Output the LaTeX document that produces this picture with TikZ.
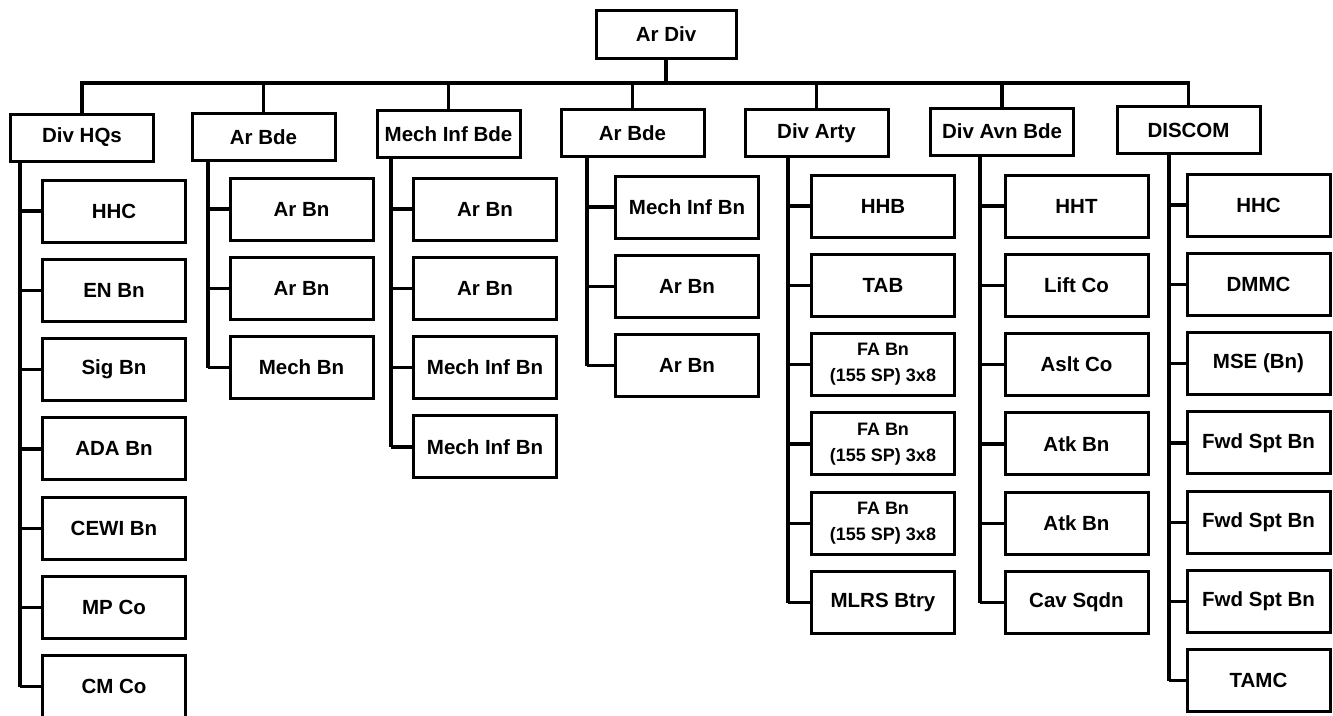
\documentclass[tikz,border=0pt]{standalone}
\usepackage{fontspec}
\setmainfont{Liberation Sans}
\begin{document}
\begin{tikzpicture}[x=1pt,y=-1pt,
  line width=3pt,
  topbox/.style={draw, line width=3pt, inner sep=0pt, minimum width=141pt, minimum height=48pt,
    font=\bfseries\fontsize{20.5}{24}\selectfont},
  unitbox/.style={draw, line width=3pt, inner sep=0pt, minimum width=143pt, minimum height=62pt,
    font=\bfseries\fontsize{20.5}{24}\selectfont},
  subbox/.style={draw, line width=3pt, inner sep=0pt, minimum width=143pt, minimum height=62pt,
    align=center, font=\bfseries\fontsize{20.5}{24}\selectfont},
  fabox/.style={subbox, font=\bfseries\fontsize{18}{26}\selectfont},
  conn/.style={line width=3.2pt}]
\useasboundingbox (0,0) rectangle (1333,715);
\fill[white] (0,0) rectangle (1333,715);

% root
\node[topbox, minimum width=140pt] (ardiv) at (666,34) {Ar Div};
\coordinate (bus) at (0,83);

% level 1
\node[unitbox, minimum height=47pt] (hq)   at (82,137.5) {Div HQs};
\node[unitbox, minimum height=47pt] (bde1) at (263.5,137) {Ar Bde};
\node[unitbox, minimum height=47pt] (mib)  at (448.5,134) {Mech Inf Bde};
\node[unitbox, minimum height=47pt] (bde2) at (632.5,133) {Ar Bde};
\node[unitbox, minimum height=47pt] (arty) at (816.5,133) {Div Arty};
\node[unitbox, minimum height=47pt] (avn)  at (1002,131.5) {Div Avn Bde};
\node[unitbox, minimum height=47pt] (dis)  at (1188.5,130) {DISCOM};

% bus
\draw[conn] (ardiv.south) -- (ardiv.south |- bus);
\draw[conn] (hq.north) -- (hq.north |- bus) -- (dis.north |- bus) -- (dis.north);
\foreach \n in {bde1,mib,bde2,arty,avn} \draw[conn] (\n.north) -- (\n.north |- bus);

% vertical spines
\coordinate (vhq) at (20,0);
\coordinate (vb1) at (208,0);
\coordinate (vmi) at (391,0);
\coordinate (vb2) at (587,0);
\coordinate (var) at (788,0);
\coordinate (vav) at (980,0);
\coordinate (vds) at (1169,0);

% Div HQs children
\foreach \lab [count=\i] in {HHC, EN Bn, Sig Bn, ADA Bn, CEWI Bn, MP Co, CM Co}
  \node[subbox] (hq\i) at (114,{211+(\i-1)*79.3}) {\lab};
\draw[conn] (hq.south -| vhq) -- (hq7.west -| vhq);
\foreach \i in {1,...,7} \draw[conn] (hq\i.west -| vhq) -- (hq\i.west);

% Ar Bde children
\foreach \lab [count=\i] in {Ar Bn, Ar Bn, Mech Bn}
  \node[subbox] (ba\i) at (301.5,{209+(\i-1)*79.3}) {\lab};
\draw[conn] (bde1.south -| vb1) -- (ba3.west -| vb1);
\foreach \i in {1,...,3} \draw[conn] (ba\i.west -| vb1) -- (ba\i.west);

% Mech Inf Bde children
\foreach \lab [count=\i] in {Ar Bn, Ar Bn, Mech Inf Bn, Mech Inf Bn}
  \node[subbox] (mi\i) at (485,{209+(\i-1)*79.3}) {\lab};
\draw[conn] (mib.south -| vmi) -- (mi4.west -| vmi);
\foreach \i in {1,...,4} \draw[conn] (mi\i.west -| vmi) -- (mi\i.west);

% Ar Bde (2) children
\foreach \lab [count=\i] in {Mech Inf Bn, Ar Bn, Ar Bn}
  \node[subbox] (bb\i) at (687,{207+(\i-1)*79.3}) {\lab};
\draw[conn] (bde2.south -| vb2) -- (bb3.west -| vb2);
\foreach \i in {1,...,3} \draw[conn] (bb\i.west -| vb2) -- (bb\i.west);

% Div Arty children
\node[subbox] (ar1) at (883,206) {HHB};
\node[subbox] (ar2) at (883,285.3) {TAB};
\node[fabox]  (ar3) at (883,364.6) {FA Bn\\(155 SP) 3x8};
\node[fabox]  (ar4) at (883,443.9) {FA Bn\\(155 SP) 3x8};
\node[fabox]  (ar5) at (883,523.2) {FA Bn\\(155 SP) 3x8};
\node[subbox] (ar6) at (883,602.5) {MLRS Btry};
\draw[conn] (arty.south -| var) -- (ar6.west -| var);
\foreach \i in {1,...,6} \draw[conn] (ar\i.west -| var) -- (ar\i.west);

% Div Avn Bde children
\foreach \lab [count=\i] in {HHT, Lift Co, Aslt Co, Atk Bn, Atk Bn, Cav Sqdn}
  \node[subbox] (av\i) at (1076.5,{206+(\i-1)*79.3}) {\lab};
\draw[conn] (avn.south -| vav) -- (av6.west -| vav);
\foreach \i in {1,...,6} \draw[conn] (av\i.west -| vav) -- (av\i.west);

% DISCOM children
\foreach \lab [count=\i] in {HHC, DMMC, MSE (Bn), Fwd Spt Bn, Fwd Spt Bn, Fwd Spt Bn, TAMC}
  \node[subbox] (ds\i) at (1258.5,{205+(\i-1)*79.3}) {\lab};
\draw[conn] (dis.south -| vds) -- (ds7.west -| vds);
\foreach \i in {1,...,7} \draw[conn] (ds\i.west -| vds) -- (ds\i.west);
\end{tikzpicture}
\end{document}
